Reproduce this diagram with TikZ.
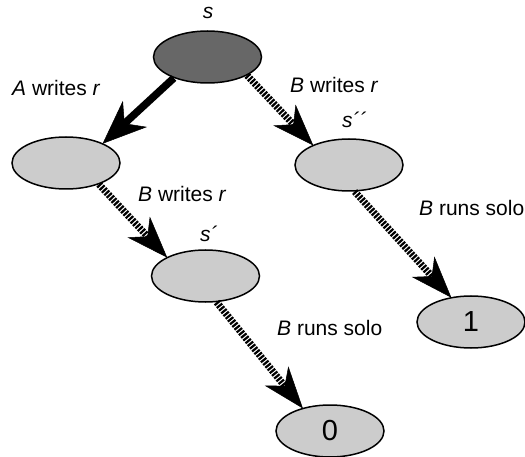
\documentclass[tikz,border=0pt]{standalone}
\usepackage{fontspec}
\setmainfont{Liberation Sans}
\usetikzlibrary{calc,shapes.geometric}
\begin{document}
\begin{tikzpicture}[x=1pt,y=-1pt,
  state/.style={ellipse,draw=black,line width=1.5pt,minimum width=108pt,minimum height=52pt,inner sep=0pt,fill=lightfill,font=\fontsize{29}{32}\selectfont},
  lbl/.style={inner sep=0pt,anchor=base west,font=\fontsize{21}{24}\selectfont},
  solidline/.style={line width=7.5pt},
  hatchline/.style={line width=7pt,dash pattern=on 2.2pt off 1.3pt},
  headfill/.style={fill=black,draw=black,line width=0.5pt,line join=miter}]
\definecolor{darkfill}{HTML}{676767}
\definecolor{lightfill}{HTML}{CCCCCC}
\newcommand\hatcharrow[2]{%
  \draw[hatchline] (#1) -- ($(#2)!22pt!(#1)$);
  \fill[headfill] (#2) -- ($(#2)!43pt!20:(#1)$) -- ($(#2)!28pt!(#1)$) -- ($(#2)!43pt!-20:(#1)$) -- cycle;}
\useasboundingbox (0,0) rectangle (525,457);
\node[state,fill=darkfill] (s) at (207.5,57) {};
\node[state] (l) at (66,163) {};
\node[state] (sp) at (205.5,276) {};
\node[state] (spp) at (349,165) {};
\node[state] (one) at (471,322) {1};
\node[state] (zero) at (330,431) {0};
\node[lbl,anchor=base] (ls) at (208,19) {\textit{s}};
\node[lbl] (lsp) at (200,242) {\textit{s´}};
\node[lbl] (lspp) at (342,128) {\textit{s´´}};
\node[lbl] (la) at (12,96) {\textit{A} writes \textit{r}};
\node[lbl] (lb1) at (290,93) {\textit{B} writes \textit{r}};
\node[lbl] (lb2) at (138,202) {\textit{B} writes \textit{r}};
\node[lbl] (lr1) at (419,216) {\textit{B} runs solo};
\node[lbl] (lr2) at (277,335) {\textit{B} runs solo};
\draw[solidline] (s.212) -- ($(l.28)!24pt!(s.212)$);
\fill[headfill] (l.28) -- ($(l.28)!46pt!22:(s.212)$) -- ($(l.28)!29pt!(s.212)$) -- ($(l.28)!46pt!-22:(s.212)$) -- cycle;
\hatcharrow{s.335}{spp.151}
\hatcharrow{l.327}{sp.154}
\hatcharrow{spp.282}{one.129}
\hatcharrow{sp.293}{zero.140}
\end{tikzpicture}
\end{document}
